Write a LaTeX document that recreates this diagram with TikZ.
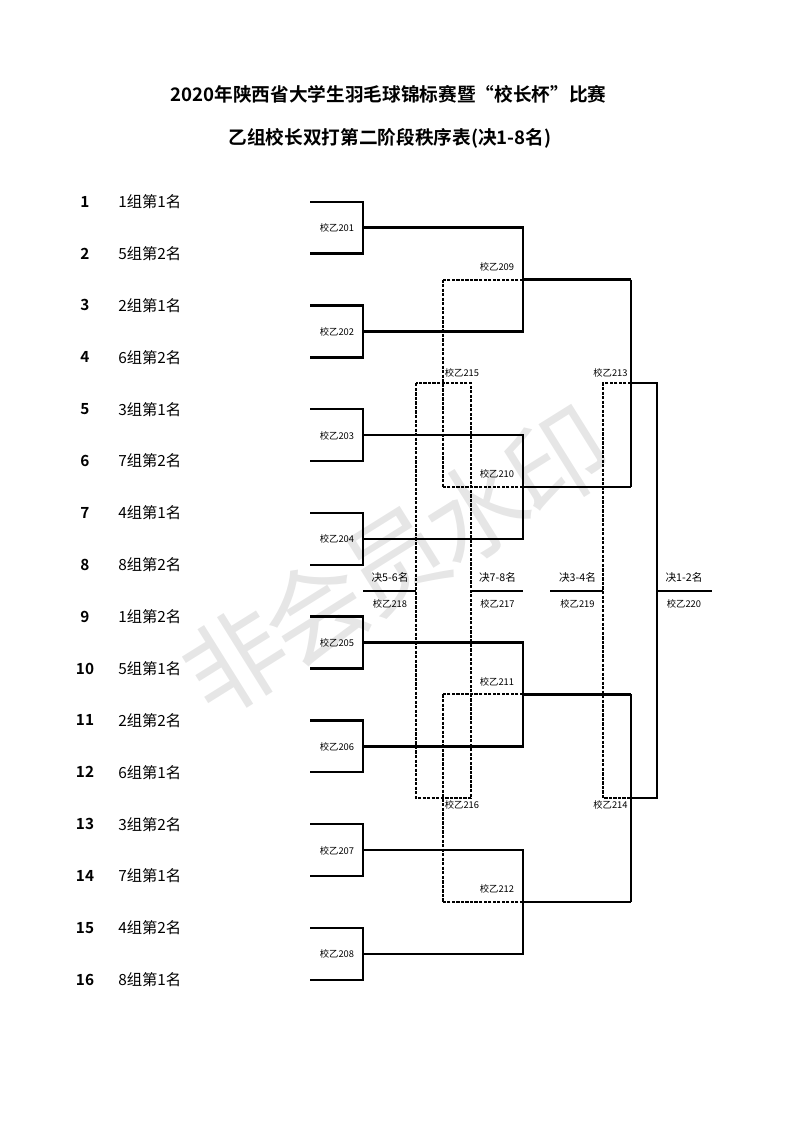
\documentclass[tikz,border=0pt]{standalone}
\usepackage{fontspec}
\setmainfont{Noto Sans CJK SC}[BoldFont={Noto Sans CJK SC Bold}]
\usetikzlibrary{calc}
\definecolor{cwater}{RGB}{230,230,230}

\begin{document}
\begin{tikzpicture}[x=0.75pt,y=-0.75pt,
    win/.style={line width=1.8pt},
    lose/.style={line width=1.5pt,dash pattern=on 2.4pt off 1pt},
    mlabel/.style={font=\fontsize{7}{8}\selectfont,inner sep=0pt},
    flabel/.style={font=\fontsize{8}{9}\selectfont,inner sep=0pt}]
  \useasboundingbox (0,0) rectangle (793,1122);
  % watermark, one glyph at a time
  \foreach \i/\c in {-2/非,-1/会,0/员,1/水,2/印} {
    \node[text=cwater,rotate=32,inner sep=0pt,font=\fontsize{76}{76}\selectfont] (mark\c) at ($(396,561)+\i*(80.6,-50.3)$) {\c};
  }
  % title
  \node[font=\bfseries\fontsize{14}{16}\selectfont] (title) at (388.5,94) {2020年陕西省大学生羽毛球锦标赛暨“校长杯”比赛};
  \node[font=\bfseries\fontsize{14}{16}\selectfont] (subtitle) at (390,138) {乙组校长双打第二阶段秩序表(决1-8名)};
  % columns
  \coordinate (cA) at (363,0); \coordinate (cB) at (523,0);
  \coordinate (cC) at (631,0); \coordinate (cD) at (657,0);
  \coordinate (dA) at (443,0); \coordinate (dB) at (416,0);
  \coordinate (dC) at (471,0); \coordinate (dD) at (603,0);
  % entries
  \def\dy{51.87}
  \foreach \n/\t in {1/1组第1名,2/5组第2名,3/2组第1名,4/6组第2名,5/3组第1名,6/7组第2名,7/4组第1名,8/8组第2名,
                     9/1组第2名,10/5组第1名,11/2组第2名,12/6组第1名,13/3组第2名,14/7组第1名,15/4组第2名,16/8组第1名} {
    \node[font=\bfseries\fontsize{11.5}{13}\selectfont] (num\n) at (85,{201.7+(\n-1)*\dy}) {\n};
    \node[anchor=west,inner sep=0pt,font=\fontsize{11.5}{13}\selectfont] (team\n) at (118,{201.7+(\n-1)*\dy}) {\t};
    \coordinate (p\n) at (310,{201.7+(\n-1)*\dy});
  }
  % first round 201-208
  \foreach \k in {1,...,8} {
    \pgfmathtruncatemacro\a{2*\k-1}
    \pgfmathtruncatemacro\b{2*\k}
    \draw[win] (p\a) -- (p\a -| cA) -- (p\b -| cA) -- (p\b);
    \coordinate (m\k) at ($(p\a -| cA)!0.5!(p\b -| cA)$);
    \node[mlabel] (g20\k) at ($(m\k)+(-26,0.5)$) {校乙20\k};
  }
  % second round 209-212
  \foreach \j in {1,...,4} {
    \pgfmathtruncatemacro\a{2*\j-1}
    \pgfmathtruncatemacro\b{2*\j}
    \pgfmathtruncatemacro\g{208+\j}
    \coordinate (s\j) at ($(m\a -| cB)!0.5!(m\b -| cB)$);
    \draw[lose] (s\j) -- (s\j -| dA);
    \draw[win] (m\a) -- (m\a -| cB) -- (m\b -| cB) -- (m\b);
    \draw[win] (s\j) -- (s\j -| cC);
    \node[mlabel] (g\g) at ($(s\j)+(-26,-13)$) {校乙\g};
  }
  % losers: 215, 216 and the 5-8 box
  \draw[lose] (s1 -| dA) -- (s2 -| dA);
  \draw[lose] (s3 -| dA) -- (s4 -| dA);
  \coordinate (u1) at ($(s1 -| dA)!0.5!(s2 -| dA)$);
  \coordinate (u2) at ($(s3 -| dA)!0.5!(s4 -| dA)$);
  \draw[lose] (u1 -| dB) rectangle (u2 -| dC);
  \node[mlabel] (g215) at ($(u1)+(19,-10)$) {校乙215};
  \node[mlabel] (g216) at ($(u2)+(19,7)$) {校乙216};
  % winners: 213, 214
  \coordinate (t1) at ($(s1 -| cC)!0.5!(s2 -| cC)$);
  \coordinate (t2) at ($(s3 -| cC)!0.5!(s4 -| cC)$);
  \draw[lose] (t1) -- (t1 -| dD) -- (t2 -| dD) -- (t2);
  \draw[win] (s1 -| cC) -- (s2 -| cC);
  \draw[win] (s3 -| cC) -- (s4 -| cC);
  \draw[win] (t1) -- (t1 -| cD) -- (t2 -| cD) -- (t2);
  \node[mlabel] (g213) at ($(t1)+(-20.5,-10)$) {校乙213};
  \node[mlabel] (g214) at ($(t2)+(-20.5,7)$) {校乙214};
  % placing matches
  \coordinate (f56) at ($(u1 -| dB)!0.5!(u2 -| dB)$);
  \coordinate (f78) at ($(u1 -| dC)!0.5!(u2 -| dC)$);
  \coordinate (f34) at ($(t1 -| dD)!0.5!(t2 -| dD)$);
  \coordinate (f12) at ($(t1 -| cD)!0.5!(t2 -| cD)$);
  \coordinate (e56) at ($(f56)+(-53,0)$);
  \coordinate (e78) at ($(f78)+(52,0)$);
  \coordinate (e34) at ($(f34)+(-53,0)$);
  \coordinate (e12) at ($(f12)+(55,0)$);
  \draw[win] (f56) -- (e56);
  \draw[win] (f78) -- (e78);
  \draw[win] (f34) -- (e34);
  \draw[win] (f12) -- (e12);
  \foreach \f/\dx/\r/\g in {f56/-26/5-6/218, f78/26.5/7-8/217, f34/-25.5/3-4/219, f12/27/1-2/220} {
    \node[flabel] (r\g) at ($(\f)+(\dx,-13.5)$) {决\r 名};
    \node[mlabel] (g\g) at ($(\f)+(\dx,13)$) {校乙\g};
  }
\end{tikzpicture}
\end{document}
